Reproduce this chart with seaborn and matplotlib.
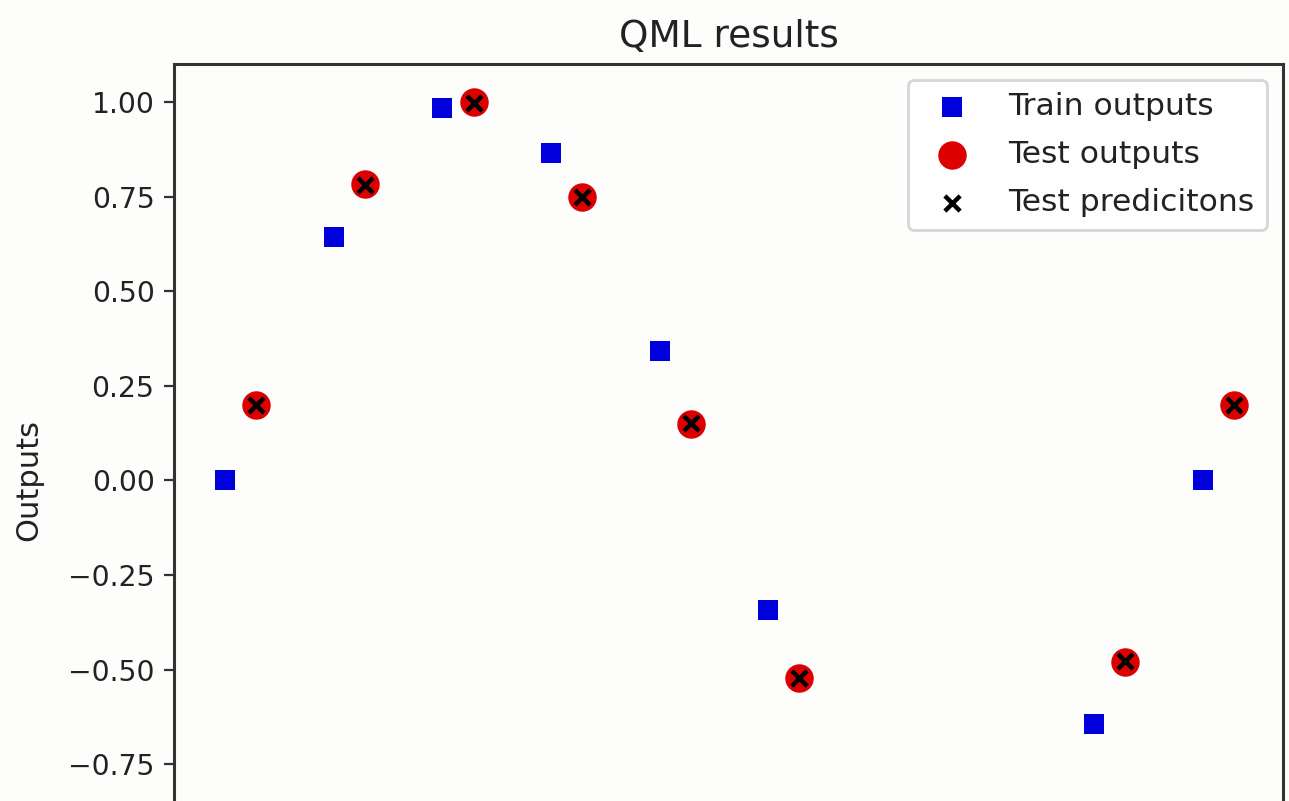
import numpy as np
import pandas as pd
import seaborn as sns
import matplotlib
matplotlib.use('Agg')
import matplotlib.pyplot as plt
from matplotlib.ticker import FixedLocator, FuncFormatter

# Data
train_x = [0.0, 0.698, 1.396, 2.094, 2.793, 3.491, 5.585, 6.283]
train_y = [0.0, 0.643, 0.985, 0.866, 0.342, -0.342, -0.643, 0.0]
test_x = [0.2, 0.898, 1.596, 2.294, 2.993, 3.691, 5.785, 6.483]
test_y = [0.199, 0.782, 1.0, 0.749, 0.149, -0.522, -0.479, 0.199]
pred_y = [0.198, 0.780, 0.998, 0.750, 0.151, -0.521, -0.478, 0.198]
y_ticks = [-0.75, -0.5, -0.25, 0.0, 0.25, 0.5, 0.75, 1.0]

if __name__ == '__main__':
    plt.rcParams['text.color'] = '#222222'
    plt.rcParams['axes.labelcolor'] = '#222222'
    plt.rcParams['ytick.labelcolor'] = '#222222'
    fig = plt.figure(figsize=(6.445, 4.005), dpi=200, facecolor='#fdfdfc')
    # axes runs past the bottom of the frame (the reference is a cropped screenshot)
    ax = fig.add_axes([0.135, -0.1196, 0.8603, 1.0396])
    ax.set_facecolor('#fdfdfc')

    trainDf = pd.DataFrame({'x': train_x, 'y': train_y})
    testDf = pd.DataFrame({'x': test_x, 'y': test_y, 'pred': pred_y})

    sns.scatterplot(data=trainDf, x='x', y='y', marker='s', color='#0000dc',
                    s=52, linewidth=0, label='Train outputs', ax=ax)
    sns.scatterplot(data=testDf, x='x', y='y', marker='o', color='#dc0000',
                    s=105, linewidth=0, label='Test outputs', ax=ax)
    sns.scatterplot(data=testDf, x='x', y='pred', marker='x', color='black',
                    s=30, linewidth=1.6, label='Test predicitons', ax=ax)

    ax.set_xlim(-0.33, 6.80)
    ax.set_ylim(-1.1, 1.1)
    ax.yaxis.set_major_locator(FixedLocator(y_ticks))
    ax.yaxis.set_major_formatter(FuncFormatter(lambda v, p: ('%.2f' % v).replace('-', '\u2212')))
    ax.tick_params(axis='x', labelbottom=False)
    ax.tick_params(axis='y', labelsize=10.2, color='#333333')
    for sp in ax.spines.values():
        sp.set_color('#333333')
        sp.set_linewidth(1.1)
    ax.set_title('QML results', fontsize=13.5)
    ax.set_ylabel('Outputs', fontsize=11, labelpad=9)
    ax.set_xlabel('')
    ax.legend(loc='upper right', fontsize=11.3, labelspacing=0.6)

    plt.savefig('out.png', dpi=200, facecolor=fig.get_facecolor())
